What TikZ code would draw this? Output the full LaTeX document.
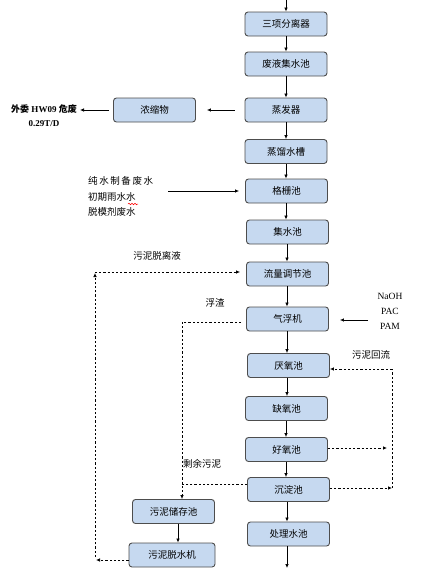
\documentclass[tikz,border=0pt]{standalone}
\usepackage{fontspec}
\setmainfont{Liberation Serif}
\newfontfamily\cjk{Noto Sans CJK SC}
\usetikzlibrary{arrows.meta,calc,decorations.pathmorphing}
\definecolor{boxfill}{HTML}{C6D9F0}
\definecolor{boxline}{HTML}{4D4D4D}
\begin{document}
\begin{tikzpicture}[x=1pt,y=-1pt,
  proc/.style={draw=boxline,line width=0.9pt,fill=boxfill,rounded corners=3pt,
    minimum width=82pt,minimum height=24pt,inner sep=0pt,font=\cjk\fontsize{9.5}{11}\selectfont},
  flow/.style={line width=0.7pt,-{Latex[length=4pt,width=3.5pt]}},
  dflow/.style={line width=0.7pt,dash pattern=on 2.2pt off 2pt,-{Latex[length=4pt,width=3.5pt]}},
  dline/.style={line width=0.7pt,dash pattern=on 2.2pt off 2pt},
  lbl/.style={inner sep=0pt,font=\cjk\fontsize{9.5}{11}\selectfont}]
\useasboundingbox (0,0) rectangle (427,568);
% main column
\node[proc] (sx) at (286,24) {三项分离器};
\node[proc] (fy) at (286,64) {废液集水池};
\node[proc] (zf) at (286,110) {蒸发器};
\node[proc] (zl) at (286,151.5) {蒸馏水槽};
\node[proc] (gs) at (286.5,191) {格栅池};
\node[proc] (js) at (287.5,232) {集水池};
\node[proc] (ll) at (287.5,274) {流量调节池};
\node[proc] (qf) at (287.5,319) {气浮机};
\node[proc] (yy) at (288.5,365.5) {厌氧池};
\node[proc] (qy) at (286.5,408.5) {缺氧池};
\node[proc] (hy) at (286.5,449.5) {好氧池};
\node[proc] (cd) at (288.5,489.5) {沉淀池};
\node[proc] (cl) at (288.5,534) {处理水池};
\node[proc] (ns) at (154.5,110) {浓缩物};
\node[proc] (wc) at (173.5,511.5) {污泥储存池};
\node[proc,minimum width=86pt] (wt) at (172,555) {污泥脱水机};
% labels
\node[lbl,font=\fontsize{9}{11}\selectfont\bfseries] (wt1) at (44,109) {{\cjk 外委} HW09 {\cjk 危废}};
\node[lbl,font=\fontsize{9}{11}\selectfont\bfseries] (wt2) at (44,124) {0.29T/D};
\node[lbl,anchor=west] (s1) at (88,181) {纯\hspace{1.6pt}水\hspace{1.6pt}制\hspace{1.6pt}备\hspace{1.6pt}废\hspace{1.6pt}水};
\node[lbl,anchor=west] (s2) at (88,197) {初期雨水水};
\node[lbl,anchor=west] (s3) at (88,212) {脱模剂废水};
\node[lbl] (t1) at (157,256) {污泥脱离液};
\node[lbl] (t2) at (215,303) {浮渣};
\node[lbl,anchor=west] (t3) at (183,464) {剩余污泥};
\node[lbl] (t4) at (371,355) {污泥回流};
\node[lbl,font=\fontsize{9.5}{11}\selectfont] (c1) at (390,296) {NaOH};
\node[lbl,font=\fontsize{9.5}{11}\selectfont] (c2) at (390,311) {PAC};
\node[lbl,font=\fontsize{9.5}{11}\selectfont] (c3) at (390,326) {PAM};
% spell-check underline
\draw[red,line width=0.5pt,decorate,decoration={snake,amplitude=0.8pt,segment length=3pt}] (128,204) -- (138,204);
% coordinates
\coordinate (top) at (286,0);
\coordinate (bot) at (287,568);
\coordinate (wa) at (80,110);
\coordinate (ia) at (168,191);
\coordinate (na) at (368,320);
\coordinate (L1) at (96,560);
\coordinate (L2) at (95,557);
\coordinate (L3) at (95,273);
\coordinate (L4) at (95,272);
\coordinate (B1) at (182,322);
\coordinate (B2) at (182,484);
\coordinate (D1) at (387,448);
\coordinate (E1) at (392,488);
\coordinate (E2) at (392,369);
\coordinate (V1) at (286,0);
\coordinate (V2) at (287,0);
\coordinate (V3) at (178,0);
% main flow
\draw[flow] (top) -- (sx.north);
\draw[flow] (V1 |- sx.south) -- (V1 |- fy.north);
\draw[flow] (V1 |- fy.south) -- (V1 |- zf.north);
\draw[flow] (V1 |- zf.south) -- (V1 |- zl.north);
\draw[flow] (V1 |- zl.south) -- (V1 |- gs.north);
\draw[flow] (V1 |- gs.south) -- (V1 |- js.north);
\draw[flow] (V2 |- js.south) -- (V2 |- ll.north);
\draw[flow] (V2 |- ll.south) -- (V2 |- qf.north);
\draw[flow] (V2 |- qf.south) -- (V2 |- yy.north);
\draw[flow] (V2 |- yy.south) -- (V2 |- qy.north);
\draw[flow] (V1 |- qy.south) -- (V1 |- hy.north);
\draw[flow] (V1 |- hy.south) -- (V1 |- cd.north);
\draw[flow] (V2 |- cd.south) -- (V2 |- cl.north);
\draw[flow] (V2 |- cl.south) -- (bot);
\draw[flow] (V3 |- wc.south) -- (V3 |- wt.north);
\draw[flow,shorten <=10pt,shorten >=11pt] (zf.west) -- (ns.east);
\draw[flow,shorten <=4pt] (ns.west) -- (wa);
\draw[flow,shorten >=6pt] (ia) -- (gs.west |- ia);
\draw[flow,shorten >=11pt] (na) -- (qf.east |- na);
% dashed returns
\draw[dflow] (wt.west |- L1) -- (L1);
\draw[dflow] (L2) -- (L3);
\draw[dflow,shorten >=6pt] (L4) -- (ll.west |- L4);
\draw[dline,shorten <=5pt] (qf.west |- B1) -- (B1);
\draw[dflow] (B1) -- (B1 |- wc.north);
\draw[dline] (cd.west |- B2) -- (B2);
\draw[dflow] (hy.east |- D1) -- (D1);
\draw[dflow] (cd.east |- E1) -- (E1);
\draw[dline] (E1) -- (E2);
\draw[dflow] (E2) -- (yy.east |- E2);
\end{tikzpicture}
\end{document}
